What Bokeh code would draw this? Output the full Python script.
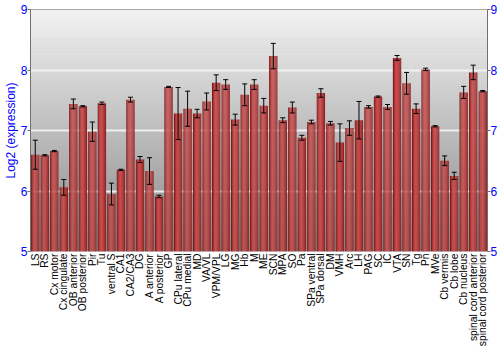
import math
from bokeh.plotting import figure
from bokeh.models import (ColumnDataSource, FactorRange, Range1d, LinearAxis, Whisker,
                          TeeHead, BoxAnnotation, Span, FixedTicker)
from bokeh.transform import dodge
from bokeh.embed import file_html
from bokeh.resources import INLINE

categories = ["LS", "RS", "Cx motor", "Cx cingulate", "OB anterior", "OB posterior", "Pir", "Tu",
              "ventral S", "CA1", "CA2/CA3", "DG", "A anterior", "A posterior", "GP", "CPu lateral",
              "CPu medial", "MD", "VA/VL", "VPM/VPL", "LG", "MG", "Hb", "M", "ME", "SCN", "MPA", "SO",
              "Pa", "SPa ventral", "SPa dorsal", "DM", "VMH", "Arc", "LH", "PAG", "SC", "IC", "VTA",
              "SN", "Tg", "Pn", "MVe", "Cb vermis", "Cb lobe", "Cb nucleus", "spinal cord anterior",
              "spinal cord posterior"]

values = [6.60, 6.59, 6.66, 6.06, 7.44, 7.40, 6.98, 7.45, 5.95, 6.35, 7.51, 6.52, 6.33, 5.91,
          7.72, 7.28, 7.36, 7.28, 7.48, 7.79, 7.76, 7.18, 7.59, 7.76, 7.41, 8.23, 7.17, 7.38,
          6.88, 7.14, 7.62, 7.12, 6.80, 7.04, 7.17, 7.39, 7.56, 7.39, 8.20, 7.78, 7.36, 8.01,
          7.07, 6.50, 6.25, 7.63, 7.96, 7.65]

errors = [0.24, 0.01, 0.01, 0.13, 0.08, 0.01, 0.16, 0.02, 0.18, 0.01, 0.04, 0.05, 0.22, 0.02,
          0.01, 0.43, 0.29, 0.07, 0.14, 0.13, 0.08, 0.09, 0.18, 0.08, 0.12, 0.21, 0.04, 0.09,
          0.04, 0.03, 0.07, 0.03, 0.31, 0.12, 0.31, 0.02, 0.01, 0.04, 0.04, 0.18, 0.08, 0.02,
          0.01, 0.08, 0.06, 0.10, 0.12, 0.01]

y_ticks = [5, 6, 7, 8, 9]
y_min, y_max = 5, 9

src = ColumnDataSource(dict(
    x=categories,
    top=values,
    upper=[v + e for v, e in zip(values, errors)],
    lower=[v - e for v, e in zip(values, errors)],
))

p = figure(width=500, height=350, output_backend="svg", toolbar_location=None,
           x_range=FactorRange(*categories, range_padding=0),
           y_range=Range1d(y_min, y_max),
           min_border_left=27, min_border_right=13, min_border_top=9, min_border_bottom=99)
p.outline_line_color = None
p.background_fill_color = "#b0b0b0"
p.border_fill_color = "white"

# vertical gradient background
N = 80
top_c, bot_c = 242, 136
for i in range(N):
    b = y_min + (y_max - y_min) * i / N
    t = y_min + (y_max - y_min) * (i + 1) / N
    frac = (i + 0.5) / N
    g = int(round(bot_c + (top_c - bot_c) * frac))
    col = "#%02x%02x%02x" % (g, g, g)
    p.add_layout(BoxAnnotation(bottom=b, top=t + 0.01, fill_color=col, fill_alpha=1.0,
                               line_color=None, level="image"))

# grid
p.xgrid.grid_line_color = None
p.ygrid.ticker = FixedTicker(ticks=[6, 7, 8])
p.ygrid.grid_line_color = "#f4f4f4"
p.ygrid.grid_line_width = 2
p.ygrid.grid_line_alpha = 0.9

# bars with horizontal shading (strips)
strip_cols = ["#7c1c1c", "#a83232", "#c04444", "#c84b4b", "#c24646", "#b63e3e", "#a83434", "#8e2626"]
bar_w = 0.87
sw = bar_w / len(strip_cols)
for k, c in enumerate(strip_cols):
    off = -bar_w / 2 + sw * (k + 0.5)
    p.vbar(x=dodge("x", off, range=p.x_range), top="top", bottom=y_min, width=sw * 1.08,
           source=src, fill_color=c, line_color=None)

# error bars
wh = Whisker(base="x", upper="upper", lower="lower", source=src,
             line_color="black", line_width=1, level="overlay",
             upper_head=TeeHead(size=5, line_color="black", line_width=1),
             lower_head=TeeHead(size=5, line_color="black", line_width=1))
p.add_layout(wh)

# top border
p.add_layout(Span(location=y_max, dimension="width", line_color="#707070", line_width=1,
                  level="overlay"))

# axes
def style_y(ax):
    ax.ticker = FixedTicker(ticks=y_ticks)
    ax.major_label_text_color = "blue"
    ax.major_label_text_font = "Liberation Sans"
    ax.major_label_text_font_size = "12px"
    ax.axis_line_color = "#707070"
    ax.major_tick_line_color = "#707070"
    ax.major_tick_out = 3
    ax.major_tick_in = 0
    ax.minor_tick_line_color = None
    ax.major_label_standoff = 0

style_y(p.yaxis[0])
p.yaxis[0].axis_label = "Log2 (expression)"
p.yaxis[0].axis_label_text_color = "blue"
p.yaxis[0].axis_label_text_font = "Liberation Sans"
p.yaxis[0].axis_label_text_font_size = "12px"
p.yaxis[0].axis_label_text_font_style = "normal"
p.yaxis[0].axis_label_standoff = 0

ry = LinearAxis()
style_y(ry)
p.add_layout(ry, "right")

xa = p.xaxis[0]
xa.major_label_orientation = math.pi / 2
xa.major_label_text_font = "Liberation Sans"
xa.major_label_text_font_size = "10.3px"
xa.major_label_text_color = "black"
xa.axis_line_color = None
xa.major_tick_line_color = None
xa.major_tick_out = 0
xa.major_label_standoff = 2

open("out.html", "w").write(file_html(p, INLINE))
